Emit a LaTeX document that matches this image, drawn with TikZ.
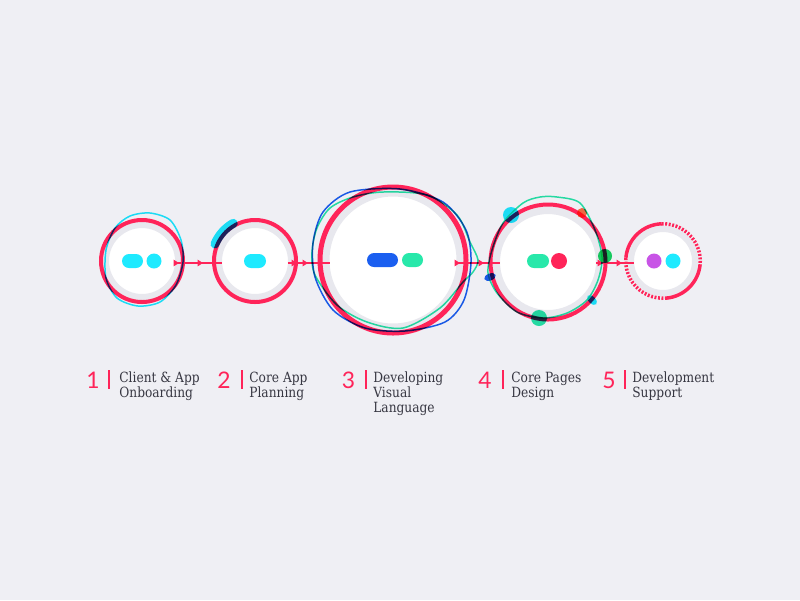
\documentclass[tikz,border=0pt]{standalone}
\usepackage{fontspec}
\usetikzlibrary{arrows.meta,decorations.markings,calc}
\newfontfamily\labfont[FakeStretch=0.87]{DejaVu Serif}
\newfontfamily\numfont{Lato}
\definecolor{bgc}{RGB}{239,239,244}
\definecolor{ringred}{RGB}{255,36,89}
\definecolor{ringgrey}{RGB}{232,232,238}
\definecolor{cyanc}{RGB}{30,234,255}
\definecolor{bluec}{RGB}{27,95,240}
\definecolor{greenc}{RGB}{40,232,170}
\definecolor{leafc}{RGB}{25,215,100}
\definecolor{purplec}{RGB}{200,84,230}
\definecolor{orangec}{RGB}{255,112,70}
\definecolor{textc}{RGB}{55,55,66}
\tikzset{
  tri/.tip={Triangle[length=3pt,width=3.6pt]},
  disc/.style={circle,fill=white,draw=ringgrey,inner sep=0pt},
  ring/.style={draw=ringred},
  pill/.style={rectangle,rounded corners=0.14cm,minimum height=0.28cm,inner sep=0pt},
  dot/.style={circle,minimum size=0.3cm,inner sep=0pt},
  wob/.style={line width=0.85pt,blend mode=multiply},
  link/.style 2 args={color=ringred,line width=0.6pt,postaction=decorate,
    decoration={markings,mark=at position #1 with {\arrow{tri}},
                mark=at position #2 with {\arrow{tri}}}},
  num/.style={text=ringred,font=\numfont\fontsize{13}{13}\selectfont,inner sep=0pt,anchor=base},
  lab/.style={text=textc,font=\labfont\fontsize{8}{8.5}\selectfont,align=left,inner sep=0pt,anchor=base west},
  bar/.style={draw=ringred,line width=0.85pt}
}
\begin{document}
\begin{tikzpicture}[x=0.02cm,y=-0.02cm]
  \fill[bgc] (0,0) rectangle (800,600);
  \useasboundingbox (0,0) rectangle (800,600);
  % stages
  \node[disc,minimum size=1.44cm,line width=0.12cm] (c1) at (142,261) {};
  \node[disc,minimum size=1.44cm,line width=0.12cm] (c2) at (255,261) {};
  \node[disc,minimum size=2.68cm,line width=0.14cm] (c3) at (393,260) {};
  \node[disc,minimum size=2.07cm,line width=0.15cm] (c4) at (548,262) {};
  \node[disc,minimum size=1.28cm,line width=0.12cm] (c5) at (663,261) {};
  % links
  \draw[link={0.08cm}{0.56cm}] ($(c1.east)+(-6,2)$) -- ($(c2.west)+(6,2)$);
  \draw[link={0.18cm}{0.4cm}] ($(c2.east)+(-6,2)$) -- ($(c3.west)+(7,3)$);
  \draw[link={0.07cm}{0.55cm}] ($(c3.east)+(-7,3)$) -- ($(c4.west)+(7.5,1)$);
  \draw[link={0.14cm}{0.52cm}] ($(c4.east)+(-7.5,1)$) -- ($(c5.west)+(6,2)$);
  % rings
  \draw[ring,line width=0.08cm] (c1.center) circle (41);
  \draw[ring,line width=0.08cm] (c2.center) circle (41);
  \draw[ring,line width=0.1cm] (c3.center) circle (73);
  \draw[ring,line width=0.08cm] (c4.center) circle (57.5);
  \draw[ring,line width=0.07cm] (c5.center) ++(185:37.25) arc[start angle=185,end angle=268,radius=37.25];
  \draw[ring,line width=0.07cm] (c5.center) ++(5:37.25) arc[start angle=5,end angle=84,radius=37.25];
  \draw[ring,line width=0.07cm,dash pattern=on 1.1pt off 0.9pt] (c5.center) ++(268:37.25) arc[start angle=268,end angle=365,radius=37.25];
  \draw[ring,line width=0.07cm,dash pattern=on 1.1pt off 0.9pt] (c5.center) ++(84:37.25) arc[start angle=84,end angle=185,radius=37.25];
  % pills
  \node[pill,fill=cyanc,minimum width=0.42cm] (p1a) at (132.5,261) {};
  \node[dot,fill=cyanc] (p1b) at (154,261) {};
  \node[pill,fill=cyanc,minimum width=0.44cm] (p2a) at (255,261) {};
  \node[pill,fill=bluec,minimum width=0.62cm] (p3a) at (382.5,260) {};
  \node[pill,fill=greenc,minimum width=0.42cm] (p3b) at (412.5,260) {};
  \node[pill,fill=greenc,minimum width=0.44cm] (p4a) at (538,261) {};
  \node[dot,fill=ringred,minimum size=0.32cm] (p4b) at (559,261) {};
  \node[dot,fill=purplec] (p5a) at (654,261) {};
  \node[dot,fill=cyanc] (p5b) at (673,261) {};
  % sketchy outlines
  \draw[wob,draw=cyanc] plot[smooth cycle] coordinates {(150,213) (170,220) (181,240) (183,262) (176,285) (160,302) (138,306) (117,298) (106,278) (106,250) (115,228) (130,216)};
  \draw[wob,draw=cyanc,line width=0.18cm,line cap=round] (c2.center) ++(203:43.5) arc[start angle=203,end angle=240,radius=43.5];
  \draw[wob,draw=bluec] plot[smooth cycle] coordinates {(350,192) (400,189) (443,202) (466,230) (471,262) (464,300) (445,322) (405,331) (365,328) (333,310) (315,277) (313,243) (323,212)};
  \draw[wob,draw=greenc] plot[smooth cycle] coordinates {(353,197) (383,192) (427,195) (457,215) (470,242) (478,260) (473,272) (463,282) (440,308) (403,328) (367,322) (337,305) (315,275) (312,252) (317,228) (330,208)};
  \draw[wob,draw=greenc] plot[smooth cycle] coordinates {(557,197) (580,203) (595,230) (602,257) (598,280) (587,300) (567,313) (543,318) (517,312) (497,293) (488,273) (492,250) (503,223) (523,203) (540,197)};
  \fill[wob,cyanc] (511,215) circle (8);
  \fill[wob,orangec] (582,213) circle (5);
  \fill[wob,leafc] (605,256) circle (7);
  \fill[wob,bluec,rotate around={20:(490,277)}] (490,277) ellipse (6 and 3.5);
  \fill[wob,cyanc,rotate around={-45:(592,300)}] (592,300) ellipse (6 and 3.5);
  \fill[wob,greenc] (539,318) circle (8);
  % captions
  \node[num] (n1) at (93,388) {1};
  \node[num] (n2) at (224,388) {2};
  \node[num] (n3) at (348.5,388) {3};
  \node[num] (n4) at (485,388) {4};
  \node[num] (n5) at (609,388) {5};
  \draw[bar] (109,370) -- (109,389);
  \draw[bar] (242,370) -- (242,389);
  \draw[bar] (366,370) -- (366,389);
  \draw[bar] (503,370) -- (503,389);
  \draw[bar] (625,370) -- (625,389);
  \node[lab] (t1) at (119,397) {Client \& App\\Onboarding};
  \node[lab] (t2) at (249,397) {Core App\\Planning};
  \node[lab] (t3) at (373,412) {Developing\\Visual\\Language};
  \node[lab] (t4) at (511,397) {Core Pages\\Design};
  \node[lab] (t5) at (632,397) {Development\\Support};
\end{tikzpicture}
\end{document}
